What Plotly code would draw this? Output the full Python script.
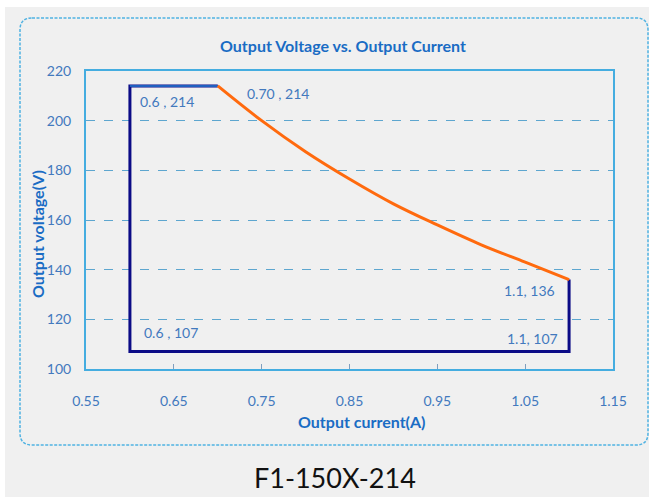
import plotly.graph_objects as go

# ---- data ----
curve_current = [0.70, 0.75, 0.80, 0.85, 0.90, 0.95, 1.00, 1.05, 1.10]
curve_voltage = [214, 200, 187.5, 176.5, 166.5, 158, 150, 143, 136]

box_current = [1.10, 1.10, 0.60, 0.60, 0.70]
box_voltage = [136, 107, 107, 214, 214]

label_current = [0.6, 0.70, 1.1, 0.6, 1.1]
label_voltage = [214, 214, 136, 107, 107]
label_text = ["0.6 , 214", "0.70 , 214", "1.1, 136", "0.6 , 107", "1.1, 107"]

x_ticks = [0.55, 0.65, 0.75, 0.85, 0.95, 1.05, 1.15]
y_ticks = [100, 120, 140, 160, 180, 200, 220]

title_text = "Output Voltage vs. Output Current"
x_title = "Output current(A)"
y_title = "Output voltage(V)"
caption = "F1-150X-214"

# ---- layout constants ----
W, H = 649, 497
L, R, T, B = 86, 36, 71, 128
PW, PH = W - L - R, H - T - B

def px(x):
    return (x - L) / PW

def py(y):
    return (H - B - y) / PH

FONT = "Lato, 'Open Sans', sans-serif"
BLUE_TXT = "#4279be"
TITLE_BLUE = "#1a6cc4"

fig = go.Figure()

fig.add_trace(go.Scatter(x=box_current, y=box_voltage, mode="lines",
                         line=dict(color="#0b0b86", width=3), hoverinfo="skip"))
fig.add_trace(go.Scatter(x=box_current[-2:], y=box_voltage[-2:], mode="lines",
                         line=dict(color="#1f5fc0", width=2), hoverinfo="skip"))
fig.add_trace(go.Scatter(x=curve_current, y=curve_voltage, mode="lines",
                         line=dict(color="#ff6a0e", width=3, shape="spline"), hoverinfo="skip"))

# label offsets (pixels) and anchors
offsets = [(8, -16, "left"), (27, -8, "left"), (-12, -11, "right"), (12, 19, "left"), (-9, 13, "right")]
for xv, yv, t, (dx, dy, anc) in zip(label_current, label_voltage, label_text, offsets):
    fig.add_annotation(x=xv, y=yv, text=t, showarrow=False, xanchor=anc, yanchor="middle",
                       xshift=dx, yshift=dy, font=dict(family=FONT, size=14, color=BLUE_TXT))

# titles
def ptext(x, y, text, size, color, angle=0):
    fig.add_annotation(xref="paper", yref="paper", x=px(x), y=py(y), text=text,
                       xanchor="center", yanchor="middle", textangle=angle,
                       showarrow=False, font=dict(family=FONT, size=size, color=color))

ptext(343, 45, "<b>" + title_text + "</b>", 16, TITLE_BLUE)
ptext(362, 421, "<b>" + x_title + "</b>", 16, TITLE_BLUE)
ptext(37, 234, "<b>" + y_title + "</b>", 16, TITLE_BLUE, -90)
ptext(335, 477, caption, 27, "#111111")

# background: white strips top/left, gray elsewhere
fig.add_shape(type="rect", xref="paper", yref="paper", x0=px(0), x1=px(W), y0=py(0), y1=py(H),
              fillcolor="white", line_width=0, layer="below")
fig.add_shape(type="rect", xref="paper", yref="paper", x0=px(5), x1=px(W), y0=py(7), y1=py(H),
              fillcolor="#f0f0f0", line_width=0, layer="below")

# rounded dashed frame
x0, x1, y0, y1, r = 20, 648, 18, 445, 12
def P(x, y):
    return f"{px(x):.5f},{py(y):.5f}"
path = (f"M {P(x0 + r, y0)} L {P(x1 - r, y0)} Q {P(x1, y0)} {P(x1, y0 + r)} "
        f"L {P(x1, y1 - r)} Q {P(x1, y1)} {P(x1 - r, y1)} "
        f"L {P(x0 + r, y1)} Q {P(x0, y1)} {P(x0, y1 - r)} "
        f"L {P(x0, y0 + r)} Q {P(x0, y0)} {P(x0 + r, y0)} Z")
fig.add_shape(type="path", xref="paper", yref="paper", path=path,
              line=dict(color="#4fb2e2", width=1.5, dash="3px,1.5px"), layer="below")

fig.update_layout(
    width=W, height=H, margin=dict(l=L, r=R, t=T, b=B),
    paper_bgcolor="white", plot_bgcolor="rgba(0,0,0,0)",
    showlegend=False,
    font=dict(family=FONT, color=BLUE_TXT, size=14),
)
fig.update_xaxes(range=[0.55, 1.15], tickvals=x_ticks, ticktext=[f"{v:.2f}" for v in x_ticks],
                 ticks="inside", ticklen=5, tickcolor="#7f9fbf", tickwidth=1,
                 ticklabelstandoff=18, showgrid=False, zeroline=False,
                 showline=True, mirror=True, linecolor="#45ade0", linewidth=2,
                 tickfont=dict(family=FONT, size=14, color=BLUE_TXT))
fig.update_yaxes(range=[100, 220], tickvals=y_ticks, ticks="", showgrid=True,
                 gridcolor="#5da6cf", griddash="dash", gridwidth=1, zeroline=False,
                 showline=True, mirror=True, linecolor="#45ade0", linewidth=2,
                 ticklabelstandoff=10,
                 tickfont=dict(family=FONT, size=14, color=BLUE_TXT))

fig.write_html("out.html", config={"displayModeBar": False},
               post_script="document.body.style.margin='0';document.body.style.overflow='hidden';")
